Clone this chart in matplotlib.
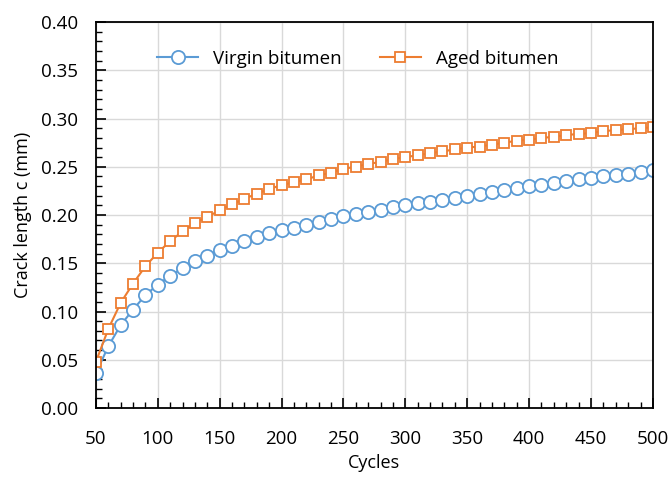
import numpy as np
import matplotlib
matplotlib.use("Agg")
import matplotlib.pyplot as plt
from matplotlib.ticker import MultipleLocator

plt.rcParams["font.family"] = ["Open Sans", "DejaVu Sans"]

cycles = list(range(50, 501, 10))

virgin = [0.036, 0.064, 0.086, 0.102, 0.117, 0.128, 0.137, 0.145, 0.152, 0.158,
          0.164, 0.168, 0.173, 0.177, 0.181, 0.184, 0.187, 0.190, 0.193, 0.196,
          0.199, 0.201, 0.203, 0.205, 0.208, 0.210, 0.212, 0.214, 0.216, 0.218,
          0.220, 0.222, 0.224, 0.226, 0.228, 0.230, 0.231, 0.233, 0.235, 0.237,
          0.238, 0.240, 0.241, 0.243, 0.245, 0.247]

aged = [0.048, 0.082, 0.109, 0.129, 0.147, 0.161, 0.173, 0.183, 0.192, 0.198,
        0.205, 0.211, 0.217, 0.222, 0.227, 0.231, 0.234, 0.237, 0.241, 0.244,
        0.248, 0.250, 0.253, 0.255, 0.258, 0.260, 0.262, 0.264, 0.266, 0.268,
        0.270, 0.271, 0.273, 0.275, 0.277, 0.278, 0.280, 0.281, 0.283, 0.284,
        0.285, 0.287, 0.288, 0.289, 0.290, 0.291]

BLUE = "#5B9BD5"
ORANGE = "#ED7D31"

fig = plt.figure(figsize=(6.71, 4.8), dpi=100)
ax = fig.add_axes([0.143, 0.15, 0.830, 0.804])

ax.plot(cycles, virgin, color=BLUE, marker="o", markersize=9.5, markerfacecolor="white",
        markeredgewidth=1.3, linewidth=1.5, label="Virgin bitumen")
ax.plot(cycles, aged, color=ORANGE, marker="s", markersize=7.5, markerfacecolor="white",
        markeredgewidth=1.3, linewidth=1.5, label="Aged bitumen")

ax.set_xlim(50, 500)
ax.set_ylim(0, 0.40)
ax.xaxis.set_major_locator(MultipleLocator(50))
ax.xaxis.set_minor_locator(MultipleLocator(10))
ax.yaxis.set_major_locator(MultipleLocator(0.05))
ax.yaxis.set_minor_locator(MultipleLocator(0.01))
ax.yaxis.set_major_formatter(matplotlib.ticker.FormatStrFormatter("%.2f"))

ax.grid(True, which="major", color="#d9d9d9", linewidth=1.0)
ax.set_axisbelow(True)
ax.tick_params(which="both", direction="in", top=False, right=False, labelsize=13.5,
               color="black")
ax.tick_params(which="major", length=7, width=1.2)
ax.tick_params(which="minor", length=4, width=1.0)
ax.tick_params(axis="y", which="major", pad=13)
ax.tick_params(axis="x", which="major", pad=16)
for s in ax.spines.values():
    s.set_color("black")
    s.set_linewidth(1.3)

ax.set_xlabel("Cycles", fontsize=13, labelpad=4)
ax.set_ylabel("Crack length c (mm)", fontsize=13, labelpad=6)

ax.legend(loc="center", bbox_to_anchor=(0.47, 0.905), ncol=2, frameon=False,
          fontsize=13.5, handlelength=2.2, columnspacing=2.0)

fig.savefig("out.png", dpi=100)
